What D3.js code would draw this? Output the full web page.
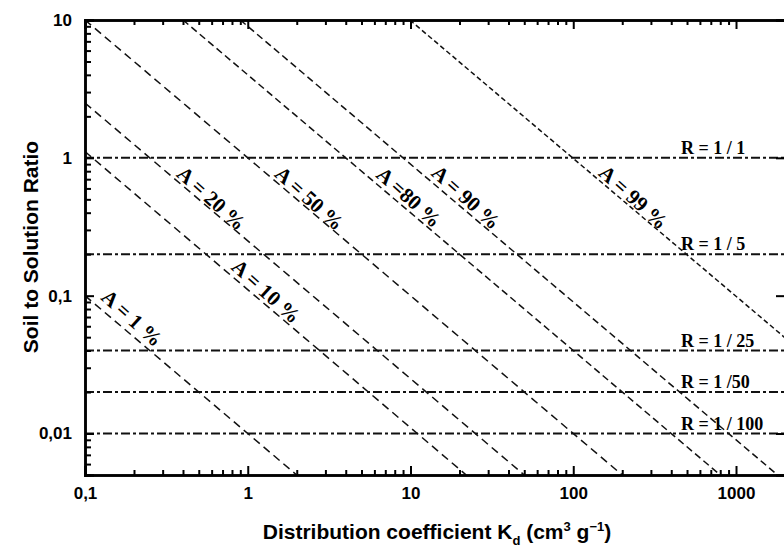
<!DOCTYPE html>
<html>
<head>
<meta charset="utf-8">
<script src="https://cdn.jsdelivr.net/npm/d3@7"></script>
<style>
  body { margin: 0; background: #fff; }
  .axis path, .axis line { stroke: #000; }
  .axis text { font-family: "Liberation Sans", Arial, sans-serif; font-weight: bold; font-size: 17px; fill: #000; }
</style>
</head>
<body>
<script>
// set up variables
var margin = {top: 20, right: 0, bottom: 72, left: 85},
    plotWidth = 700,
    plotHeight = 455,
    canvasWidth = 784,
    canvasHeight = 547;

// adsorption lines (A = fraction adsorbed), endpoints
var adsLabels = ["A = 1 %", "A = 10 %", "A = 20 %", "A = 50 %", "A =80 %", "A = 90 %", "A = 99 %"];
var adsStart = [[0.1, 0.1], [0.1, 1.11], [0.1, 2.5], [0.1, 10], [0.4, 10], [0.9, 10], [9.9, 10]];
var adsEnd = [[2, 0.005], [22, 0.005], [50, 0.005], [200, 0.005], [800, 0.005], [1800, 0.005], [2000, 0.0495]];
var adsLabelAt = [[0.195, 0.069], [1.3, 0.108], [0.6, 0.51], [2.4, 0.51], [9.8, 0.52], [22, 0.52], [235, 0.52]];
var adsDash = ["8,5", "8,5", "8,5", "8,5", "7,4", "7,4", "5,3"];

// soil to solution ratios
var ratioValues = [1, 0.2, 0.04, 0.02, 0.01];
var ratioLabels = ["R = 1 / 1", "R = 1 / 5", "R = 1 / 25", "R = 1 /50", "R = 1 / 100"];

// tick labels
var xTicks = [0.1, 1, 10, 100, 1000];
var xTickLabels = ["0,1", "1", "10", "100", "1000"];
var yTicks = [0.01, 0.1, 1, 10];
var yTickLabels = ["0,01", "0,1", "1", "10"];

var xMin = 0.1, xMax = 2000, yMin = 0.005, yMax = 10;

var figure = d3.select("body")
    .append("svg")
    .attr("width", canvasWidth)
    .attr("height", canvasHeight);

var x = d3.scaleLog()
    .range([margin.left, margin.left + plotWidth])
    .domain([xMin, xMax]);
var y = d3.scaleLog()
    .range([margin.top + plotHeight, margin.top])
    .domain([yMin, yMax]);

figure.append("defs").append("clipPath")
    .attr("id", "plotclip")
    .append("rect")
    .attr("x", margin.left).attr("y", margin.top)
    .attr("width", plotWidth).attr("height", plotHeight);

var plot = figure.append("g").attr("clip-path", "url(#plotclip)");

// horizontal ratio lines
plot.selectAll("line.ratio")
    .data(ratioValues)
    .enter()
    .append("line")
    .attr("class", "ratio")
    .attr("x1", x(xMin)).attr("x2", x(xMax))
    .attr("y1", function(d) { return y(d); })
    .attr("y2", function(d) { return y(d); })
    .attr("stroke", "#111")
    .attr("stroke-width", 2)
    .attr("stroke-dasharray", "9,3,3,3");

// adsorption lines
plot.selectAll("line.ads")
    .data(adsStart)
    .enter()
    .append("line")
    .attr("class", "ads")
    .attr("x1", function(d) { return x(d[0]); })
    .attr("y1", function(d) { return y(d[1]); })
    .attr("x2", function(d, i) { return x(adsEnd[i][0]); })
    .attr("y2", function(d, i) { return y(adsEnd[i][1]); })
    .attr("stroke", "#111")
    .attr("stroke-width", 1.5)
    .attr("stroke-dasharray", function(d, i) { return adsDash[i]; });

// labels along the adsorption lines
figure.selectAll("text.adslab")
    .data(adsLabels)
    .enter()
    .append("text")
    .attr("class", "adslab")
    .attr("transform", function(d, i) {
        return "translate(" + x(adsLabelAt[i][0]) + "," + y(adsLabelAt[i][1]) + ") rotate(42)";
    })
    .attr("text-anchor", "middle")
    .attr("dy", "0.35em")
    .style("font-family", "'Liberation Serif', 'Times New Roman', serif")
    .style("font-weight", "bold")
    .style("font-size", "21px")
    .text(function(d) { return d; });

// ratio labels
figure.selectAll("text.rlab")
    .data(ratioValues)
    .enter()
    .append("text")
    .attr("class", "rlab")
    .attr("x", 681)
    .attr("y", function(d) { return y(d) - 4; })
    .style("font-family", "'Liberation Serif', 'Times New Roman', serif")
    .style("font-weight", "bold")
    .style("font-size", "18px")
    .text(function(d, i) { return ratioLabels[i]; });

// minor ticks for log axes
function minorTicks(lo, hi) {
    var t = [];
    for (var e = Math.floor(Math.log10(lo)); e <= Math.ceil(Math.log10(hi)); e++) {
        for (var k = 2; k <= 9; k++) {
            var v = k * Math.pow(10, e);
            if (v > lo && v < hi) t.push(v);
        }
    }
    return t;
}
var xMinor = minorTicks(xMin, xMax), yMinor = minorTicks(yMin, yMax);

function fmt(ticks, labels) {
    return function(d) { var i = ticks.indexOf(d); return i < 0 ? "" : labels[i]; };
}

// bottom axis
var bottom = margin.top + plotHeight;
figure.append("g").attr("class", "axis")
    .attr("transform", "translate(0," + bottom + ")")
    .call(d3.axisBottom(x).tickValues(xMinor).tickSize(-5).tickFormat(""));
figure.append("g").attr("class", "axis")
    .attr("transform", "translate(0," + bottom + ")")
    .call(d3.axisBottom(x).tickValues(xTicks).tickSize(-9).tickPadding(12).tickFormat(fmt(xTicks, xTickLabels)));
// top axis
figure.append("g").attr("class", "axis")
    .attr("transform", "translate(0," + margin.top + ")")
    .call(d3.axisTop(x).tickValues(xMinor).tickSize(-5).tickFormat(""));
figure.append("g").attr("class", "axis")
    .attr("transform", "translate(0," + margin.top + ")")
    .call(d3.axisTop(x).tickValues(xTicks).tickSize(-9).tickFormat(""));
// left axis
figure.append("g").attr("class", "axis")
    .attr("transform", "translate(" + margin.left + ",0)")
    .call(d3.axisLeft(y).tickValues(yMinor).tickSize(-6).tickFormat(""));
figure.append("g").attr("class", "axis")
    .attr("transform", "translate(" + margin.left + ",0)")
    .call(d3.axisLeft(y).tickValues(yTicks).tickSize(-9).tickPadding(13).tickFormat(fmt(yTicks, yTickLabels)));
// right axis
figure.append("g").attr("class", "axis")
    .attr("transform", "translate(" + (margin.left + plotWidth) + ",0)")
    .call(d3.axisRight(y).tickValues(yTicks).tickSize(-9).tickFormat(""));

figure.selectAll(".axis path").attr("stroke-width", 2.5);
figure.selectAll(".axis line").attr("stroke-width", 2);

// axis titles
var xt = figure.append("text")
    .attr("x", 437).attr("y", 539)
    .attr("text-anchor", "middle")
    .style("font-family", "'Liberation Sans', Arial, sans-serif")
    .style("font-weight", "bold")
    .style("font-size", "21px");
xt.append("tspan").text("Distribution coefficient K");
xt.append("tspan").attr("dy", 6).style("font-size", "13px").text("d");
xt.append("tspan").attr("dy", -6).text(" (cm");
xt.append("tspan").attr("dy", -8).style("font-size", "13px").text("3");
xt.append("tspan").attr("dy", 8).text(" g");
xt.append("tspan").attr("dy", -8).style("font-size", "13px").text("\u22121");
xt.append("tspan").attr("dy", 8).text(")");

figure.append("text")
    .attr("transform", "translate(38,247) rotate(-90)")
    .attr("text-anchor", "middle")
    .style("font-family", "'Liberation Sans', Arial, sans-serif")
    .style("font-weight", "bold")
    .style("font-size", "21px")
    .text("Soil to Solution Ratio");
</script>
</body>
</html>
